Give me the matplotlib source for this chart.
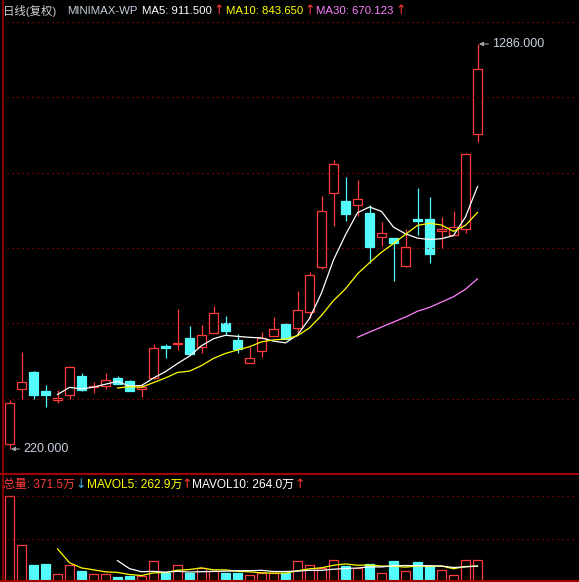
import numpy as np
import pandas as pd
import matplotlib
matplotlib.use("Agg")
import matplotlib.pyplot as plt

plt.rcParams['font.family'] = ['Liberation Sans', 'Noto Sans CJK SC', 'DejaVu Sans']

# daily OHLC (price) and volume (万)
opens  = [232.4, 377.1, 422.7, 372.7, 349.8, 362.9, 412.1, 382.4, 386.6, 406.9,
          399.0, 377.1, 406.1, 491.1, 495.6, 511.4, 487.7, 524.5, 551.6, 506.9,
          447.1, 478.7, 518.2, 549.0, 539.3, 580.6, 699.8, 893.0, 872.8, 861.4,
          841.2, 778.8, 775.4, 702.5, 825.4, 825.4, 793.0, 784.1, 799.8, 1048.3]
highs  = [349.0, 475.3, 426.1, 387.7, 375.3, 437.7, 420.0, 396.3, 420.0, 412.1,
          401.6, 391.1, 495.6, 497.2, 588.5, 543.7, 546.4, 596.4, 570.1, 522.7,
          489.3, 527.2, 566.6, 551.6, 635.9, 685.9, 885.9, 980.7, 935.9, 928.0,
          861.4, 817.5, 775.4, 799.1, 907.0, 883.3, 830.6, 847.2, 999.1, 1286.0]
lows   = [220.0, 350.8, 350.8, 331.3, 341.9, 350.8, 373.4, 368.2, 378.7, 390.3,
          372.7, 357.7, 403.5, 460.3, 480.6, 467.4, 473.5, 524.5, 519.3, 471.9,
          445.6, 462.9, 518.2, 508.7, 524.5, 564.8, 693.0, 807.7, 820.9, 833.3,
          710.4, 754.3, 663.0, 699.8, 784.1, 710.4, 749.8, 784.1, 787.7, 1027.3]
closes = [340.3, 395.6, 362.9, 362.9, 355.0, 435.0, 375.3, 385.8, 401.6, 391.9,
          373.4, 382.4, 485.1, 485.8, 498.2, 470.8, 519.3, 577.2, 531.4, 483.2,
          458.7, 511.4, 535.1, 508.7, 585.9, 677.2, 846.4, 970.1, 839.3, 877.2,
          752.5, 787.7, 763.0, 751.7, 820.1, 734.0, 799.1, 804.3, 996.5, 1219.4]
volumes = [1504, 637, 283, 301, 118, 278, 177, 118, 118, 71,
           88, 88, 354, 147, 278, 147, 236, 177, 147, 147,
           106, 147, 147, 147, 354, 283, 236, 372, 265, 236,
           300, 150, 354, 185, 336, 260, 190, 115, 378, 371.5]

header_ma = [("MA5", "911.500"), ("MA10", "843.650"), ("MA30", "670.123")]
header_vol = [("总量", "371.5万"), ("MAVOL5", "262.9万"), ("MAVOL10", "264.0万")]

RED = "#ff3b3b"
CYAN = "#54fcfc"
GRID = "#a00000"
BORDER = "#a00000"
LABEL = "#c8d0e0"

df = pd.DataFrame({"open": opens, "high": highs, "low": lows,
                   "close": closes, "vol": volumes})
x = np.arange(len(df))
up = df["close"] >= df["open"]

W, H = 579, 582
fig = plt.figure(figsize=(W / 100, H / 100), dpi=100, facecolor="black")

ax = fig.add_axes([2 / W, (H - 474) / H, 576 / W, 452 / H], facecolor="black")
axv = fig.add_axes([2 / W, 1 / H, 576 / W, 107 / H], facecolor="black")

bw = 0.667
for a in (ax, axv):
    a.set_xlim(-0.625, 47.375)
    a.set_xticks([])
    a.set_yticks([])
    for s in a.spines.values():
        s.set_visible(False)

# price scale
lo, hi = df["low"].min(), df["high"].max()
R = (hi - lo) / (0.9513 - 0.0553)
ymin = lo - 0.0553 * R
ymax = ymin + R
ax.set_ylim(ymin, ymax)
for k in range(1, 7):
    ax.axhline(ymin + k * R / 6, color=GRID, lw=0.9, ls=(0, (1, 3)))

# candles
for i, r in df.iterrows():
    top, bot = max(r.open, r.close), min(r.open, r.close)
    if up[i]:
        ax.vlines(i, top, r.high, color=RED, lw=0.9)
        ax.vlines(i, r.low, bot, color=RED, lw=0.9)
        ax.bar(i, top - bot, bottom=bot, width=bw, facecolor="black",
               edgecolor=RED, linewidth=0.9)
    else:
        ax.vlines(i, r.low, r.high, color=CYAN, lw=0.9)
        ax.bar(i, max(top - bot, 0.5), bottom=bot, width=bw, facecolor=CYAN,
               edgecolor=CYAN, linewidth=0.9)

# moving averages
ax.plot(x, df["close"].rolling(5).mean(), color="white", lw=0.9)
ax.plot(x, df["close"].rolling(10).mean(), color="#ffff00", lw=0.9)
ax.plot(x, df["close"].rolling(30).mean(), color="#ff80ff", lw=0.9)

# high / low markers
ih, il = df["high"].idxmax(), df["low"].idxmin()
ax.annotate(f"{hi:.3f}", xy=(ih, hi), xytext=(15, 0), textcoords="offset pixels",
            color=LABEL, fontsize=9, ha="left", va="center",
            arrowprops=dict(arrowstyle="-|>", color="#a0a0a0", lw=0.8,
                            mutation_scale=6, shrinkA=1, shrinkB=1))
ax.annotate(f"{lo:.3f}", xy=(il, lo), xytext=(14, 0), textcoords="offset pixels",
            color=LABEL, fontsize=9, ha="left", va="center",
            arrowprops=dict(arrowstyle="-|>", color="#a0a0a0", lw=0.8,
                            mutation_scale=6, shrinkA=1, shrinkB=1))

# volume panel
vmax = df["vol"].max()
axv.set_ylim(0, vmax * 107 / 85)
for lvl in (vmax / 2, vmax):
    axv.axhline(lvl, color=GRID, lw=0.9, ls=(0, (1, 3)))
for i, r in df.iterrows():
    if up[i]:
        axv.bar(i, r.vol, width=bw, facecolor="black", edgecolor=RED, linewidth=0.9)
    else:
        axv.bar(i, r.vol, width=bw, facecolor=CYAN, edgecolor=CYAN, linewidth=0.9)
axv.plot(x, df["vol"].rolling(5).mean(), color="#ffff00", lw=0.9)
axv.plot(x, df["vol"].rolling(10).mean(), color="white", lw=0.9)

# frame lines
fig.add_artist(plt.Line2D([2.5 / W, 2.5 / W], [0, 1], color=BORDER, lw=1.2))
fig.add_artist(plt.Line2D([0, 1], [(H - 474) / H] * 2, color=BORDER, lw=1.5))
fig.add_artist(plt.Line2D([0, 1], [1.0 / H] * 2, color=BORDER, lw=1.5))

# header texts
def ftxt(px, py, s, c, fs=8.2, fam=None):
    kw = {"family": fam} if fam else {}
    fig.text(px / W, (H - py) / H, s, color=c, fontsize=fs, ha="left",
             va="center", **kw)

ftxt(3, 11, "日线(复权)", "#d0d0d0")
ftxt(67, 11, "MINIMAX-WP", LABEL)
ma_cols = ["white", "#ffff00", "#ff80ff"]
ma_x = [142, 226, 316]
arr_x = [213, 304, 395]
for (name, val), c, px, ax_ in zip(header_ma, ma_cols, ma_x, arr_x):
    ftxt(px, 11, f"{name}: {val}", c)
    ftxt(ax_, 11, "↑", RED, fs=9, fam="DejaVu Sans")

vol_cols = [RED, "#ffff00", "white"]
vol_x = [3, 87, 192]
varr_x = [75, 181, 294]
varr = [("↓", "#3cb4e6"), ("↑", RED), ("↑", RED)]
for (name, val), c, px, ax_, (a, ac) in zip(header_vol, vol_cols, vol_x, varr_x, varr):
    ftxt(px, 485, f"{name}: {val}", c, fs=8.6)
    ftxt(ax_, 485, a, ac, fs=9, fam="DejaVu Sans")

fig.savefig("out.png", dpi=100, facecolor="black")
